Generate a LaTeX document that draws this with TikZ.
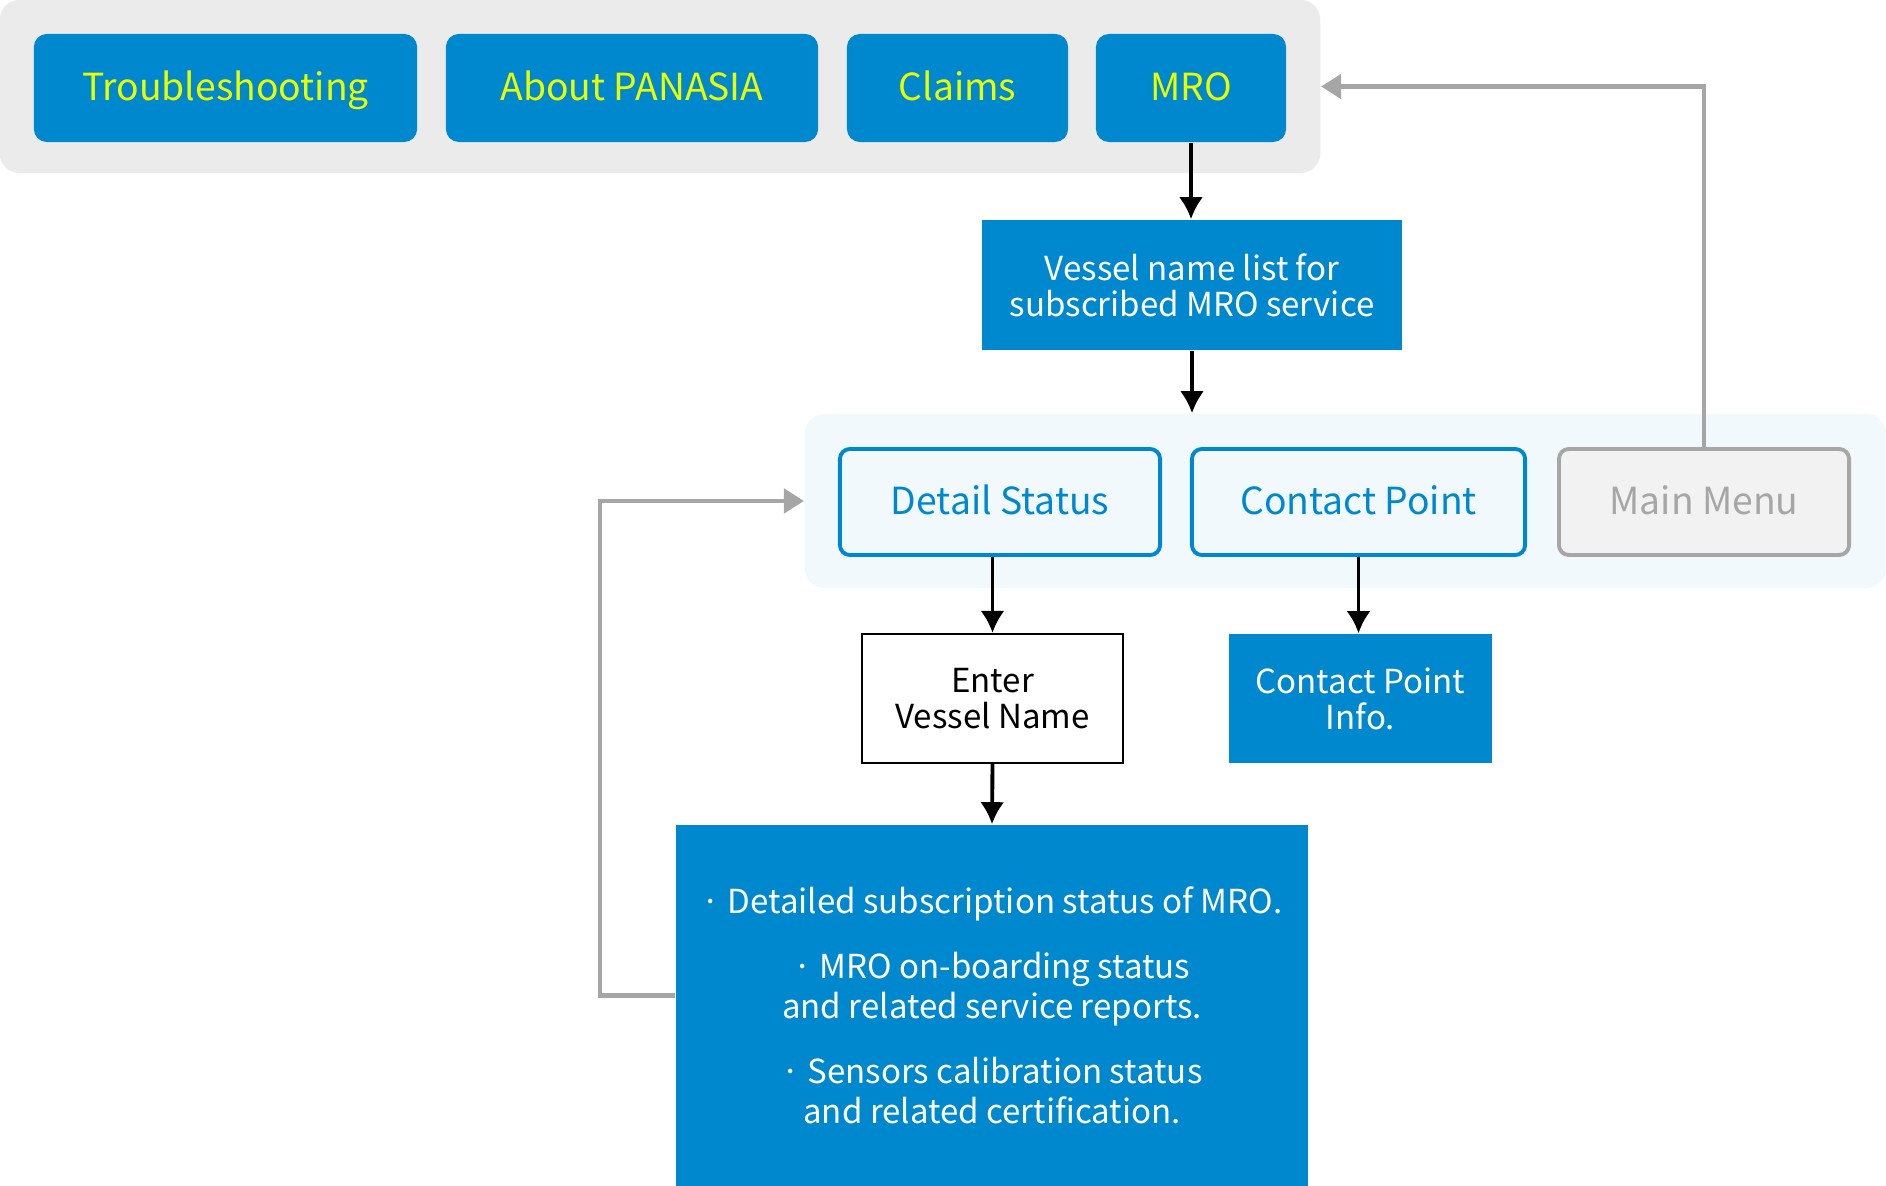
\documentclass[tikz,border=0pt]{standalone}
\usepackage{fontspec}
\setmainfont{Noto Sans CJK KR}
\usetikzlibrary{arrows.meta}
\definecolor{mroblue}{HTML}{0088CF}
\definecolor{btnyellow}{HTML}{E8FF00}
\definecolor{panelgray}{HTML}{EBEBEB}
\definecolor{panellight}{HTML}{F2F9FD}
\definecolor{linegray}{HTML}{A6A6A6}
\definecolor{menugray}{HTML}{F2F2F2}
\definecolor{menutext}{HTML}{A6A6A6}

\begin{document}
\begin{tikzpicture}[x=0.01cm, y=-0.01cm,
    menubtn/.style={fill=mroblue, text=btnyellow, rounded corners=0.13cm, minimum height=1.08cm, inner sep=0pt, text height=0.26cm, text depth=0pt, font=\fontsize{10.6}{13}\selectfont},
    subbtn/.style={fill=panellight, draw=mroblue, line width=1.1pt, text=mroblue, rounded corners=0.1cm, minimum height=1.06cm, inner sep=0pt, text height=0.25cm, text depth=0pt, font=\fontsize{10.6}{13}\selectfont},
    bluebox/.style={fill=mroblue, text=white, align=center, inner sep=0pt, font=\fontsize{9.4}{10.2}\selectfont},
    flow/.style={-{Latex[length=0.22cm,width=0.24cm]}, line width=1.1pt},
    back/.style={-{Triangle[length=0.2cm,width=0.24cm]}, draw=linegray, line width=1.3pt}]
    \useasboundingbox (0,0) rectangle (1886,1186);
    % main menu bar
    \node[fill=panelgray, rounded corners=0.2cm, minimum width=13.2cm, minimum height=1.73cm, inner sep=0pt] (menubar) at (660,86.5) {};
    \node[menubtn, minimum width=3.83cm] (trouble) at (225.5,88) {Troubleshooting};
    \node[menubtn, minimum width=3.72cm] (about) at (632,88) {About PANASIA};
    \node[menubtn, minimum width=2.21cm] (claims) at (957.5,88) {Claims};
    \node[menubtn, minimum width=1.90cm] (mro) at (1191,88) {MRO};
    \node[bluebox, minimum width=4.2cm, minimum height=1.3cm] (vlist) at (1192,285) {Vessel name list for\\subscribed MRO service};
    % MRO sub menu
    \node[fill=panellight, rounded corners=0.2cm, minimum width=10.81cm, minimum height=1.74cm, inner sep=0pt] (subpanel) at (1345.5,501) {};
    \node[subbtn, minimum width=3.2cm] (detail) at (1000,502) {Detail Status};
    \node[subbtn, minimum width=3.33cm] (contact) at (1358.5,502) {Contact Point};
    \node[subbtn, minimum width=2.9cm, fill=menugray, draw=linegray, text=menutext] (main) at (1704,502) {Main Menu};
    \node[draw, line width=0.6pt, fill=white, align=center, minimum width=2.61cm, minimum height=1.29cm, inner sep=0pt, font=\fontsize{9.4}{10.2}\selectfont] (enter) at (992.5,698.5) {Enter\\Vessel Name};
    \node[bluebox, minimum width=2.63cm, minimum height=1.29cm] (cpinfo) at (1360.5,698.5) {Contact Point\\Info.};
    \node[bluebox, minimum width=6.32cm, minimum height=3.61cm, font=\fontsize{9.4}{11.4}\selectfont] (status) at (992,1005.5) {· Detailed subscription status of MRO.\\[7pt]· MRO on-boarding status\\and related service reports.\\[7pt]· Sensors calibration status\\and related certification.};
    % connectors
    \draw[flow] (mro.south) -- (mro.south |- vlist.north);
    \draw[flow] (vlist.south) -- (vlist.south |- subpanel.north);
    \draw[flow] (enter.north |- detail.south) -- (enter.north);
    \draw[flow] (enter.south) -- (status.north);
    \draw[flow] (contact.south) -- (contact.south |- cpinfo.north);
    \draw[back] (main.north) |- (menubar.east);
    \draw[back] ([yshift=0.1cm]status.west) -- ++(-75,0) |- (subpanel.west);
\end{tikzpicture}
\end{document}
